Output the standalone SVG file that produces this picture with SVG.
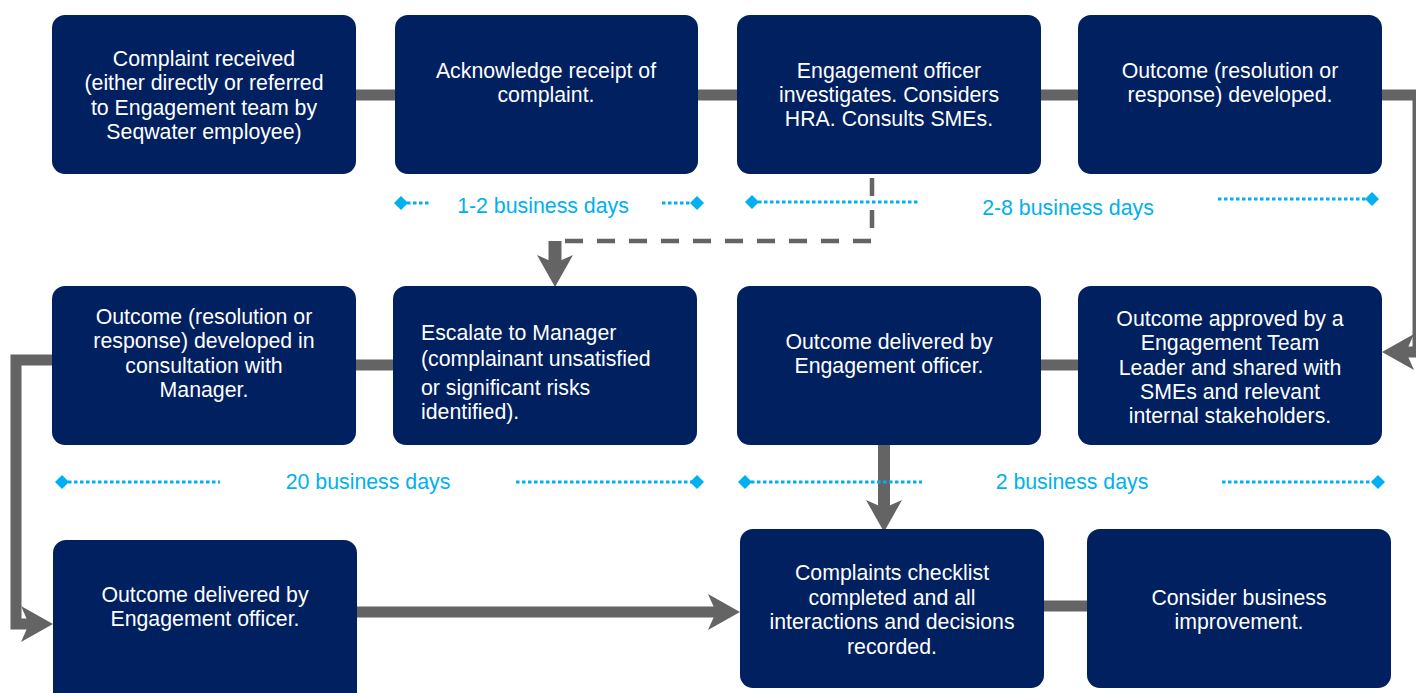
<svg xmlns="http://www.w3.org/2000/svg" width="1416" height="693" viewBox="0 0 1416 693">
<defs>
<style>
.box{fill:#002060}
.t{font-family:"Liberation Sans",Arial,sans-serif;font-size:21.3px;fill:#ffffff;text-anchor:middle}
.tl{text-anchor:start}
.c{fill:none;stroke:#646464;stroke-width:11}
.d{fill:none;stroke:#646464;stroke-width:4.5;stroke-dasharray:18 14}
.dot{fill:none;stroke:#00B0F0;stroke-width:3;stroke-dasharray:3.5 2.5}
.lb{font-family:"Liberation Sans",Arial,sans-serif;font-size:21.3px;fill:#00B0F0;text-anchor:middle}
</style>
<marker id="ah" viewBox="0 0 32 36" refX="9" refY="18" markerWidth="32" markerHeight="36" markerUnits="userSpaceOnUse" orient="auto">
<path d="M0,0 L32,18 L0,36 L8,18 z" fill="#646464"/>
</marker>
<marker id="dm" viewBox="0 0 14 14" refX="7" refY="7" markerWidth="14" markerHeight="14" markerUnits="userSpaceOnUse">
<path d="M7,0 L14,7 L7,14 L0,7 z" fill="#00B0F0"/>
</marker>
</defs>
<g id="connectors">
<line class="c" x1="356" y1="95" x2="395" y2="95"/>
<line class="c" x1="698" y1="95" x2="737" y2="95"/>
<line class="c" x1="1041" y1="95" x2="1078" y2="95"/>
<polyline class="c" points="1382,95 1418,95 1418,352 1405,352" marker-end="url(#ah)"/>
<polyline class="d" points="872,178 872,241 560,241"/>
<line x1="555" y1="241" x2="555" y2="264" stroke="#646464" stroke-width="13" marker-end="url(#ah)"/>
<line class="c" x1="356" y1="365" x2="393" y2="365"/>
<line class="c" x1="1041" y1="365" x2="1078" y2="365"/>
<polyline class="c" points="52,360 16,360 16,624 30,624" marker-end="url(#ah)"/>
<line x1="884" y1="445" x2="884" y2="509" stroke="#646464" stroke-width="12" marker-end="url(#ah)"/>
<line class="c" x1="357" y1="612" x2="717" y2="612" marker-end="url(#ah)"/>
<line class="c" x1="1044" y1="606" x2="1087" y2="606"/>
</g>
<g id="timelines">
<line class="dot" x1="401" y1="203" x2="431" y2="203" marker-start="url(#dm)"/>
<text class="lb" x="543" y="213">1-2 business days</text>
<line class="dot" x1="662" y1="203" x2="697" y2="203" marker-end="url(#dm)"/>
<line class="dot" x1="752" y1="202" x2="920" y2="202" marker-start="url(#dm)"/>
<text class="lb" x="1068" y="215">2-8 business days</text>
<line class="dot" x1="1218" y1="199" x2="1372" y2="199" marker-end="url(#dm)"/>
<line class="dot" x1="62" y1="482" x2="220" y2="482" marker-start="url(#dm)"/>
<text class="lb" x="368" y="489">20 business days</text>
<line class="dot" x1="516" y1="482" x2="697" y2="482" marker-end="url(#dm)"/>
<line class="dot" x1="745" y1="482" x2="922" y2="482" marker-start="url(#dm)"/>
<text class="lb" x="1072" y="489">2 business days</text>
<line class="dot" x1="1222" y1="482" x2="1378" y2="482" marker-end="url(#dm)"/>
</g>
<g id="n1"><rect class="box" x="52" y="15" width="304" height="159" rx="13"/>
<text class="t" x="204" y="66">Complaint received</text>
<text class="t" x="204" y="90">(either directly or referred</text>
<text class="t" x="204" y="115">to Engagement team by</text>
<text class="t" x="204" y="139">Seqwater employee)</text></g>
<g id="n2"><rect class="box" x="395" y="15" width="303" height="159" rx="13"/>
<text class="t" x="546" y="78">Acknowledge receipt of</text>
<text class="t" x="546" y="102">complaint.</text></g>
<g id="n3"><rect class="box" x="737" y="15" width="304" height="159" rx="13"/>
<text class="t" x="889" y="78">Engagement officer</text>
<text class="t" x="889" y="102">investigates. Considers</text>
<text class="t" x="889" y="126">HRA. Consults SMEs.</text></g>
<g id="n4"><rect class="box" x="1078" y="15" width="304" height="159" rx="13"/>
<text class="t" x="1230" y="78">Outcome (resolution or</text>
<text class="t" x="1230" y="102">response) developed.</text></g>
<g id="n5"><rect class="box" x="52" y="286" width="304" height="159" rx="13"/>
<text class="t" x="204" y="324">Outcome (resolution or</text>
<text class="t" x="204" y="348">response) developed in</text>
<text class="t" x="204" y="373">consultation with</text>
<text class="t" x="204" y="397">Manager.</text></g>
<g id="n6"><rect class="box" x="393" y="286" width="304" height="159" rx="13"/>
<text class="t tl" x="421" y="340">Escalate to Manager</text>
<text class="t tl" x="421" y="366">(complainant unsatisfied</text>
<text class="t tl" x="421" y="395">or significant risks</text>
<text class="t tl" x="421" y="419">identified).</text></g>
<g id="n7"><rect class="box" x="737" y="286" width="304" height="159" rx="13"/>
<text class="t" x="889" y="349">Outcome delivered by</text>
<text class="t" x="889" y="373">Engagement officer.</text></g>
<g id="n8"><rect class="box" x="1078" y="286" width="304" height="159" rx="13"/>
<text class="t" x="1230" y="326">Outcome approved by a</text>
<text class="t" x="1230" y="350">Engagement Team</text>
<text class="t" x="1230" y="375">Leader and shared with</text>
<text class="t" x="1230" y="399">SMEs and relevant</text>
<text class="t" x="1230" y="423">internal stakeholders.</text></g>
<g id="n9"><rect class="box" x="53" y="540" width="304" height="170" rx="13"/>
<text class="t" x="205" y="602">Outcome delivered by</text>
<text class="t" x="205" y="626">Engagement officer.</text></g>
<g id="n10"><rect class="box" x="740" y="529" width="304" height="159" rx="13"/>
<text class="t" x="892" y="580">Complaints checklist</text>
<text class="t" x="892" y="605">completed and all</text>
<text class="t" x="892" y="629">interactions and decisions</text>
<text class="t" x="892" y="654">recorded.</text></g>
<g id="n11"><rect class="box" x="1087" y="529" width="304" height="159" rx="13"/>
<text class="t" x="1239" y="605">Consider business</text>
<text class="t" x="1239" y="629">improvement.</text></g>
</svg>
